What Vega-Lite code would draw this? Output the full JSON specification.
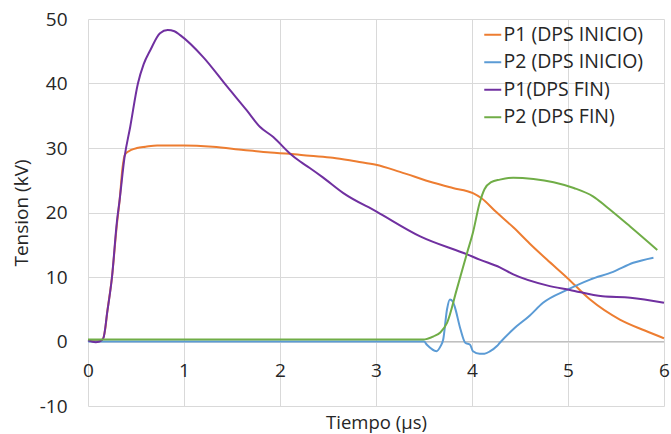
{
  "$schema": "https://vega.github.io/schema/vega-lite/v6.json",
  "width": 576,
  "height": 387,
  "autosize": {"type": "none"},
  "padding": {"left": 88, "top": 19, "right": 7, "bottom": 28},
  "background": "white",
  "config": {
    "view": {"stroke": null},
    "font": "Open Sans",
    "axis": {"labelFont": "Open Sans", "titleFont": "Open Sans", "labelColor": "#262626", "titleColor": "#262626", "titleFontWeight": "normal", "gridColor": "#d9d9d9", "gridWidth": 1}
  },
  "data": {
    "values": [
      {"t": 0, "v": 0.2, "s": "P1 (DPS INICIO)"},
      {"t": 0.1, "v": 0.1, "s": "P1 (DPS INICIO)"},
      {"t": 0.15, "v": 0.3, "s": "P1 (DPS INICIO)"},
      {"t": 0.18, "v": 2, "s": "P1 (DPS INICIO)"},
      {"t": 0.2, "v": 4.5, "s": "P1 (DPS INICIO)"},
      {"t": 0.25, "v": 10, "s": "P1 (DPS INICIO)"},
      {"t": 0.3, "v": 18, "s": "P1 (DPS INICIO)"},
      {"t": 0.33, "v": 22, "s": "P1 (DPS INICIO)"},
      {"t": 0.36, "v": 27, "s": "P1 (DPS INICIO)"},
      {"t": 0.385, "v": 29, "s": "P1 (DPS INICIO)"},
      {"t": 0.45, "v": 29.7, "s": "P1 (DPS INICIO)"},
      {"t": 0.51, "v": 30, "s": "P1 (DPS INICIO)"},
      {"t": 0.6, "v": 30.2, "s": "P1 (DPS INICIO)"},
      {"t": 0.72, "v": 30.4, "s": "P1 (DPS INICIO)"},
      {"t": 1.0, "v": 30.4, "s": "P1 (DPS INICIO)"},
      {"t": 1.3, "v": 30.2, "s": "P1 (DPS INICIO)"},
      {"t": 1.62, "v": 29.7, "s": "P1 (DPS INICIO)"},
      {"t": 1.9, "v": 29.3, "s": "P1 (DPS INICIO)"},
      {"t": 2.1, "v": 29.1, "s": "P1 (DPS INICIO)"},
      {"t": 2.31, "v": 28.8, "s": "P1 (DPS INICIO)"},
      {"t": 2.55, "v": 28.5, "s": "P1 (DPS INICIO)"},
      {"t": 2.8, "v": 27.9, "s": "P1 (DPS INICIO)"},
      {"t": 3.0, "v": 27.4, "s": "P1 (DPS INICIO)"},
      {"t": 3.25, "v": 26.3, "s": "P1 (DPS INICIO)"},
      {"t": 3.6, "v": 24.6, "s": "P1 (DPS INICIO)"},
      {"t": 3.8, "v": 23.8, "s": "P1 (DPS INICIO)"},
      {"t": 4.01, "v": 23, "s": "P1 (DPS INICIO)"},
      {"t": 4.1, "v": 22.2, "s": "P1 (DPS INICIO)"},
      {"t": 4.25, "v": 20.1, "s": "P1 (DPS INICIO)"},
      {"t": 4.43, "v": 17.7, "s": "P1 (DPS INICIO)"},
      {"t": 4.6, "v": 15.2, "s": "P1 (DPS INICIO)"},
      {"t": 4.78, "v": 12.7, "s": "P1 (DPS INICIO)"},
      {"t": 4.99, "v": 9.9, "s": "P1 (DPS INICIO)"},
      {"t": 5.23, "v": 6.5, "s": "P1 (DPS INICIO)"},
      {"t": 5.54, "v": 3.4, "s": "P1 (DPS INICIO)"},
      {"t": 5.8, "v": 1.7, "s": "P1 (DPS INICIO)"},
      {"t": 6.0, "v": 0.5, "s": "P1 (DPS INICIO)"},

      {"t": 0, "v": 0, "s": "P2 (DPS INICIO)"},
      {"t": 3.5, "v": 0, "s": "P2 (DPS INICIO)"},
      {"t": 3.53, "v": -0.5, "s": "P2 (DPS INICIO)"},
      {"t": 3.63, "v": -1.5, "s": "P2 (DPS INICIO)"},
      {"t": 3.67, "v": -0.8, "s": "P2 (DPS INICIO)"},
      {"t": 3.7, "v": 0.3, "s": "P2 (DPS INICIO)"},
      {"t": 3.74, "v": 5, "s": "P2 (DPS INICIO)"},
      {"t": 3.77, "v": 6.5, "s": "P2 (DPS INICIO)"},
      {"t": 3.8, "v": 6.2, "s": "P2 (DPS INICIO)"},
      {"t": 3.82, "v": 5.4, "s": "P2 (DPS INICIO)"},
      {"t": 3.88, "v": 1.9, "s": "P2 (DPS INICIO)"},
      {"t": 3.93, "v": -0.2, "s": "P2 (DPS INICIO)"},
      {"t": 3.98, "v": -0.5, "s": "P2 (DPS INICIO)"},
      {"t": 4.01, "v": -1.5, "s": "P2 (DPS INICIO)"},
      {"t": 4.08, "v": -1.9, "s": "P2 (DPS INICIO)"},
      {"t": 4.13, "v": -1.9, "s": "P2 (DPS INICIO)"},
      {"t": 4.19, "v": -1.5, "s": "P2 (DPS INICIO)"},
      {"t": 4.26, "v": -0.7, "s": "P2 (DPS INICIO)"},
      {"t": 4.29, "v": -0.2, "s": "P2 (DPS INICIO)"},
      {"t": 4.43, "v": 1.9, "s": "P2 (DPS INICIO)"},
      {"t": 4.6, "v": 4, "s": "P2 (DPS INICIO)"},
      {"t": 4.74, "v": 6, "s": "P2 (DPS INICIO)"},
      {"t": 4.99, "v": 8.0, "s": "P2 (DPS INICIO)"},
      {"t": 5.23, "v": 9.6, "s": "P2 (DPS INICIO)"},
      {"t": 5.47, "v": 10.8, "s": "P2 (DPS INICIO)"},
      {"t": 5.68, "v": 12.2, "s": "P2 (DPS INICIO)"},
      {"t": 5.89, "v": 13.0, "s": "P2 (DPS INICIO)"},

      {"t": 0, "v": 0.2, "s": "P1(DPS FIN)"},
      {"t": 0.08, "v": -0.1, "s": "P1(DPS FIN)"},
      {"t": 0.12, "v": 0, "s": "P1(DPS FIN)"},
      {"t": 0.16, "v": 0.5, "s": "P1(DPS FIN)"},
      {"t": 0.2, "v": 4.5, "s": "P1(DPS FIN)"},
      {"t": 0.25, "v": 10, "s": "P1(DPS FIN)"},
      {"t": 0.3, "v": 18.4, "s": "P1(DPS FIN)"},
      {"t": 0.33, "v": 22, "s": "P1(DPS FIN)"},
      {"t": 0.38, "v": 28.5, "s": "P1(DPS FIN)"},
      {"t": 0.44, "v": 33.3, "s": "P1(DPS FIN)"},
      {"t": 0.52, "v": 40, "s": "P1(DPS FIN)"},
      {"t": 0.58, "v": 43, "s": "P1(DPS FIN)"},
      {"t": 0.65, "v": 45.2, "s": "P1(DPS FIN)"},
      {"t": 0.75, "v": 47.8, "s": "P1(DPS FIN)"},
      {"t": 0.83, "v": 48.3, "s": "P1(DPS FIN)"},
      {"t": 0.9, "v": 48.1, "s": "P1(DPS FIN)"},
      {"t": 0.96, "v": 47.5, "s": "P1(DPS FIN)"},
      {"t": 1.2, "v": 44.1, "s": "P1(DPS FIN)"},
      {"t": 1.45, "v": 39.5, "s": "P1(DPS FIN)"},
      {"t": 1.65, "v": 35.9, "s": "P1(DPS FIN)"},
      {"t": 1.79, "v": 33.3, "s": "P1(DPS FIN)"},
      {"t": 1.93, "v": 31.7, "s": "P1(DPS FIN)"},
      {"t": 2.1, "v": 29.2, "s": "P1(DPS FIN)"},
      {"t": 2.21, "v": 27.9, "s": "P1(DPS FIN)"},
      {"t": 2.31, "v": 26.9, "s": "P1(DPS FIN)"},
      {"t": 2.45, "v": 25.4, "s": "P1(DPS FIN)"},
      {"t": 2.66, "v": 23, "s": "P1(DPS FIN)"},
      {"t": 3.01, "v": 20.1, "s": "P1(DPS FIN)"},
      {"t": 3.46, "v": 16.3, "s": "P1(DPS FIN)"},
      {"t": 3.95, "v": 13.5, "s": "P1(DPS FIN)"},
      {"t": 4.08, "v": 12.7, "s": "P1(DPS FIN)"},
      {"t": 4.29, "v": 11.5, "s": "P1(DPS FIN)"},
      {"t": 4.43, "v": 10.4, "s": "P1(DPS FIN)"},
      {"t": 4.78, "v": 8.7, "s": "P1(DPS FIN)"},
      {"t": 5.02, "v": 8.0, "s": "P1(DPS FIN)"},
      {"t": 5.36, "v": 7.0, "s": "P1(DPS FIN)"},
      {"t": 5.65, "v": 6.8, "s": "P1(DPS FIN)"},
      {"t": 6.0, "v": 6.0, "s": "P1(DPS FIN)"},

      {"t": 0, "v": 0.3, "s": "P2 (DPS FIN)"},
      {"t": 3.49, "v": 0.3, "s": "P2 (DPS FIN)"},
      {"t": 3.6, "v": 0.8, "s": "P2 (DPS FIN)"},
      {"t": 3.67, "v": 1.4, "s": "P2 (DPS FIN)"},
      {"t": 3.74, "v": 2.9, "s": "P2 (DPS FIN)"},
      {"t": 3.84, "v": 8, "s": "P2 (DPS FIN)"},
      {"t": 3.95, "v": 13.8, "s": "P2 (DPS FIN)"},
      {"t": 4.01, "v": 16.9, "s": "P2 (DPS FIN)"},
      {"t": 4.08, "v": 21.5, "s": "P2 (DPS FIN)"},
      {"t": 4.13, "v": 23.6, "s": "P2 (DPS FIN)"},
      {"t": 4.2, "v": 24.7, "s": "P2 (DPS FIN)"},
      {"t": 4.29, "v": 25.1, "s": "P2 (DPS FIN)"},
      {"t": 4.43, "v": 25.4, "s": "P2 (DPS FIN)"},
      {"t": 4.64, "v": 25.2, "s": "P2 (DPS FIN)"},
      {"t": 4.85, "v": 24.7, "s": "P2 (DPS FIN)"},
      {"t": 5.06, "v": 23.8, "s": "P2 (DPS FIN)"},
      {"t": 5.26, "v": 22.5, "s": "P2 (DPS FIN)"},
      {"t": 5.4, "v": 20.9, "s": "P2 (DPS FIN)"},
      {"t": 5.65, "v": 17.8, "s": "P2 (DPS FIN)"},
      {"t": 5.93, "v": 14.2, "s": "P2 (DPS FIN)"}
    ]
  },
  "layer": [
    {
      "mark": {"type": "rule", "color": "#bfbfbf", "strokeWidth": 1},
      "encoding": {"y": {"datum": 0, "type": "quantitative"}}
    },
    {
      "mark": {"type": "line", "strokeWidth": 2, "interpolate": "monotone"},
      "encoding": {
        "x": {
          "field": "t", "type": "quantitative",
          "scale": {"domain": [0, 6], "nice": false},
          "axis": {"values": [0, 1, 2, 3, 4, 5, 6], "title": "Tiempo (µs)", "offset": -64.5, "domain": false, "ticks": false, "labelFlush": false, "labelFontSize": 19, "labelPadding": 20, "titleFontSize": 18.5, "titlePadding": 33, "grid": true}
        },
        "y": {
          "field": "v", "type": "quantitative",
          "scale": {"domain": [-10, 50], "nice": false, "zero": false},
          "axis": {"values": [-10, 0, 10, 20, 30, 40, 50], "labelExpr": "datum.value + ''", "title": "Tension (kV)", "domain": false, "ticks": false, "labelFontSize": 19, "labelPadding": 21, "titleFontSize": 19, "titlePadding": 8, "grid": true}
        },
        "color": {
          "field": "s", "type": "nominal",
          "scale": {"domain": ["P1 (DPS INICIO)", "P2 (DPS INICIO)", "P1(DPS FIN)", "P2 (DPS FIN)"], "range": ["#ED7D31", "#5B9BD5", "#7030A0", "#70AD47"]},
          "legend": {"title": null, "orient": "none", "legendX": 395, "legendY": 6, "symbolType": "stroke", "symbolSize": 289, "symbolStrokeWidth": 2, "labelFontSize": 19.5, "labelColor": "#262626", "rowPadding": 6.5, "labelOffset": 1, "labelLimit": 300}
        },
        "order": {"field": "t", "type": "quantitative"}
      }
    }
  ]
}
